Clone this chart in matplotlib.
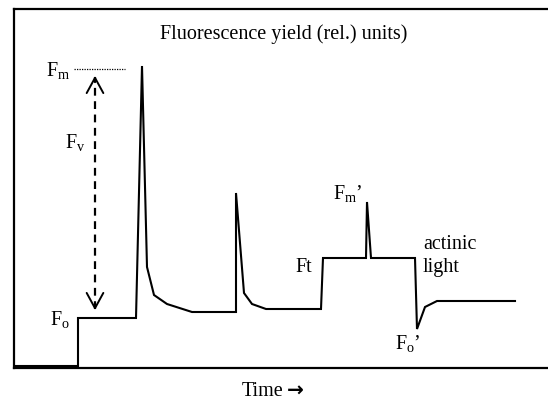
import matplotlib.pyplot as plt

plt.rcParams['font.family'] = ['Liberation Serif', 'DejaVu Sans']
plt.rcParams['mathtext.fontset'] = 'custom'
plt.rcParams['mathtext.rm'] = 'Liberation Serif'

# Fluorescence trace (time and yield in arbitrary units)
time = [2, 64, 64, 122, 128, 133, 140, 153, 178, 222, 222, 230, 238, 252,
        307, 309, 352, 353, 357, 401, 403, 411, 423, 501]
yield_ = [2, 2, 50, 50, 302, 101, 73, 64, 56, 56, 175, 75, 64, 59,
          59, 110, 110, 166, 110, 110, 39, 61, 67, 67]

fm_level = 299
fo_level = 55
fv_time = 81

fig = plt.figure(figsize=(5.48, 4.0), dpi=100)
ax = fig.add_axes([14 / 548, 32 / 400, 546 / 548, 359 / 400])
ax.set_xlim(0, 546)
ax.set_ylim(0, 359)
ax.set_xticks([])
ax.set_yticks([])
for s in ['left', 'top', 'bottom']:
    ax.spines[s].set_linewidth(1.6)
ax.spines['right'].set_visible(False)

ax.plot(time, yield_, color='black', lw=1.5, solid_joinstyle='miter')

# Fm dotted level
ax.plot([60, 111], [fm_level, fm_level], color='black', lw=0.9, ls=(0, (1, 1)))

# Fv double arrow (dashed shaft + open heads)
ax.plot([fv_time, fv_time], [fo_level + 4, fm_level - 8], color='black', lw=1.6,
        ls=(0, (3.5, 2.5)))
for y0, y1 in [(fm_level - 16, fm_level - 4), (fo_level + 12, fo_level)]:
    ax.annotate('', xy=(fv_time, y1), xytext=(fv_time, y0),
                arrowprops=dict(arrowstyle='->,head_length=1.1,head_width=0.6',
                                color='black', lw=1.4))

fs = 14.5
ax.text(270, 334, 'Fluorescence yield (rel.) units)', ha='center', va='center', fontsize=fs)
ax.text(44, 297, r'F$_\mathrm{m}$', ha='center', va='center', fontsize=fs)
ax.text(61, 225, r'F$_\mathrm{v}$', ha='center', va='center', fontsize=fs)
ax.text(46, 48, r'F$_\mathrm{o}$', ha='center', va='center', fontsize=fs)
ax.text(290, 100, 'Ft', ha='center', va='center', fontsize=fs)
ax.text(334, 174, r'F$_\mathrm{m}$’', ha='center', va='center', fontsize=fs)
ax.text(409, 112, 'actinic\nlight', ha='left', va='center', fontsize=fs,
        linespacing=1.35)
ax.text(394, 24, r'F$_\mathrm{o}$’', ha='center', va='center', fontsize=fs)

fig.text(283 / 548, 1 - 392 / 400, 'Time', ha='right', va='center', fontsize=fs)
fig.text(287 / 548, 1 - 391 / 400, '→', ha='left', va='center', fontsize=fs,
         family='DejaVu Sans', fontweight='bold')

fig.savefig('out.png', dpi=100)
